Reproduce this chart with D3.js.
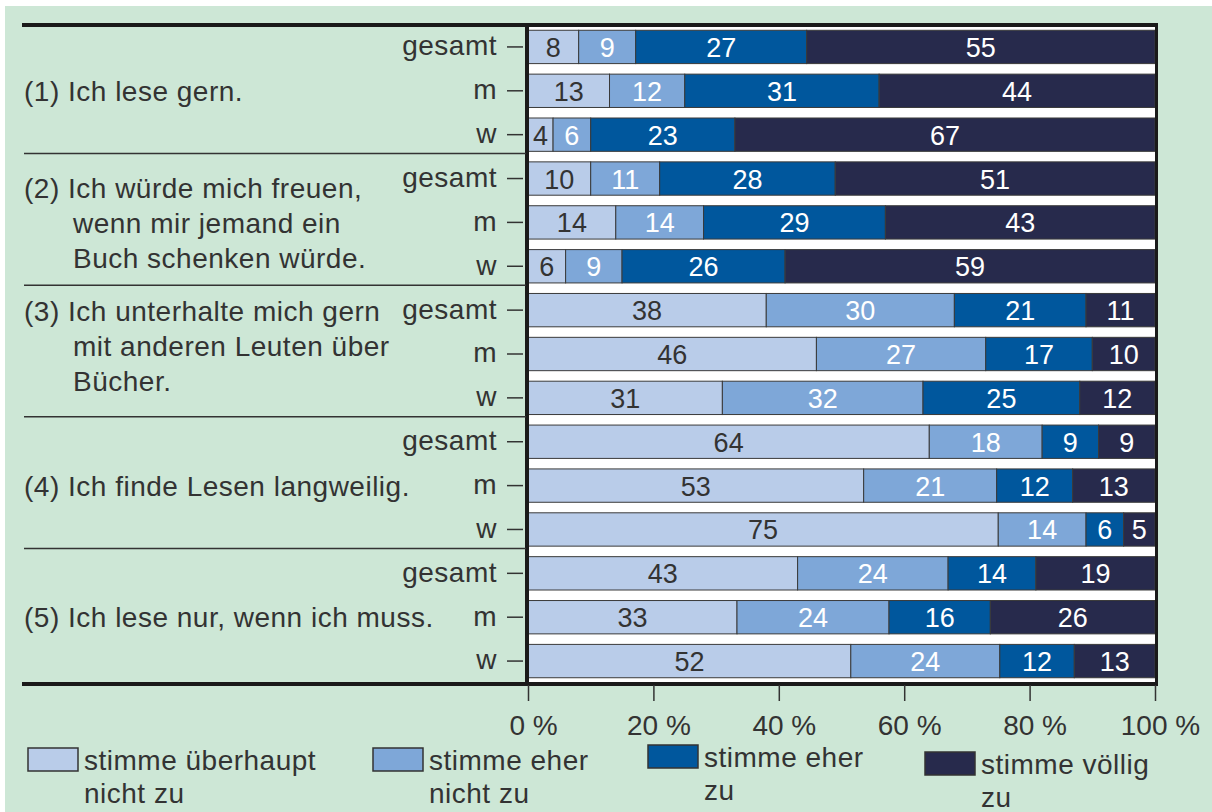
<!DOCTYPE html>
<html><head><meta charset="utf-8">
<script src="https://cdn.jsdelivr.net/npm/d3@7"></script>
<style>
html,body{margin:0;padding:0;background:#fff;}
svg{display:block;font-family:"Liberation Sans",Arial,sans-serif;}
</style></head>
<body>
<svg id="chart" width="1212" height="812"></svg>
<script>
// ---- data ----
const groupLabels = [
  ["(1) Ich lese gern."],
  ["(2) Ich würde mich freuen,", "wenn mir jemand ein", "Buch schenken würde."],
  ["(3) Ich unterhalte mich gern", "mit anderen Leuten über", "Bücher."],
  ["(4) Ich finde Lesen langweilig."],
  ["(5) Ich lese nur, wenn ich muss."]
];
const subgroups = ["gesamt", "m", "w"];
const seriesNames = ["stimme überhaupt nicht zu", "stimme eher nicht zu", "stimme eher zu", "stimme völlig zu"];
const legendLines = [["stimme überhaupt", "nicht zu"], ["stimme eher", "nicht zu"], ["stimme eher", "zu"], ["stimme völlig", "zu"]];
const ueberhauptNicht = [8, 13, 4, 10, 14, 6, 38, 46, 31, 64, 53, 75, 43, 33, 52];
const eherNicht       = [9, 12, 6, 11, 14, 9, 30, 27, 32, 18, 21, 14, 24, 24, 24];
const eherZu          = [27, 31, 23, 28, 29, 26, 21, 17, 25, 9, 12, 6, 14, 16, 12];
const voellig         = [55, 44, 67, 51, 43, 59, 11, 10, 12, 9, 13, 5, 19, 26, 13];
const tickValues = [0, 0.2, 0.4, 0.6, 0.8, 1];

// ---- layout ----
const colors = ["#b9cce9", "#7ea7d8", "#00579d", "#272a4c"];
const textColors = ["#333", "#fff", "#fff", "#fff"];
const bg = "#cde7d6";
const FS = 28, LS = 0.5;
const svg = d3.select("#chart");
svg.append("rect").attr("width", 1212).attr("height", 812).attr("fill", "#fff");
svg.append("rect").attr("x", 5).attr("y", 6).attr("width", 1207).attr("height", 806).attr("fill", bg);

const rows = [];
groupLabels.forEach((g, gi) => subgroups.forEach((s, si) => rows.push({id: gi * 3 + si, group: gi, sub: s})));
const table = rows.map((r, i) => ({
  id: r.id,
  [seriesNames[0]]: ueberhauptNicht[i],
  [seriesNames[1]]: eherNicht[i],
  [seriesNames[2]]: eherZu[i],
  [seriesNames[3]]: voellig[i]
}));

const x0 = 528, x1 = 1155, yTop = 25, yBot = 683;
const x = d3.scaleLinear().domain([0, 1]).range([x0, x1]);
const y = d3.scaleBand().domain(rows.map(r => r.id)).range([yTop, yBot]).paddingInner(0.24).paddingOuter(0.12);

// plot area white
svg.append("rect").attr("x", x0).attr("y", yTop).attr("width", x1 - x0).attr("height", yBot - yTop).attr("fill", "#fff");

const stack = d3.stack().keys(seriesNames).offset(d3.stackOffsetExpand);
const stacked = stack(table);

const layers = svg.append("g").selectAll("g").data(stacked).join("g")
  .attr("fill", (d, i) => colors[i]);
layers.selectAll("rect").data(d => d).join("rect")
  .attr("x", d => x(d[0]))
  .attr("y", d => y(d.data.id))
  .attr("width", d => x(d[1]) - x(d[0]))
  .attr("height", y.bandwidth())
  .attr("stroke", "#3a3a3a").attr("stroke-width", 1);

const labelG = svg.append("g").attr("text-anchor", "middle");
stacked.forEach((layer, li) => {
  labelG.selectAll(null).data(layer).join("text")
    .attr("x", d => (x(d[0]) + x(d[1])) / 2)
    .attr("y", d => y(d.data.id) + y.bandwidth() / 2 + 10)
    .attr("fill", textColors[li])
    .attr("font-size", d => (x(d[1]) - x(d[0])) < 22 ? 25 : 27)
    .text(d => d.data[layer.key]);
});

// frame lines
svg.append("line").attr("x1", 22).attr("x2", 1158).attr("y1", yTop).attr("y2", yTop).attr("stroke", "#1a1a1a").attr("stroke-width", 4);
svg.append("line").attr("x1", 22).attr("x2", 1158).attr("y1", yBot + 1).attr("y2", yBot + 1).attr("stroke", "#1a1a1a").attr("stroke-width", 4);
svg.append("line").attr("x1", x0 - 1).attr("x2", x0 - 1).attr("y1", yTop).attr("y2", yBot + 2).attr("stroke", "#1a1a1a").attr("stroke-width", 4);
svg.append("line").attr("x1", x1 + 1.5).attr("x2", x1 + 1.5).attr("y1", yTop).attr("y2", yBot + 2).attr("stroke", "#1a1a1a").attr("stroke-width", 3);

// group separators
for (let g = 1; g < groupLabels.length; g++) {
  const yy = (y(g * 3 - 1) + y.bandwidth() + y(g * 3)) / 2 - 3;
  svg.append("line").attr("x1", 24).attr("x2", x0 - 2).attr("y1", yy).attr("y2", yy).attr("stroke", "#333").attr("stroke-width", 1.5);
}

// y axis with sub labels
const yAxis = d3.axisLeft(y).tickSize(16).tickPadding(10).tickFormat(id => rows[id].sub);
const ya = svg.append("g").attr("transform", `translate(${x0 - 5},0)`).call(yAxis);
ya.select(".domain").remove();
ya.selectAll(".tick line").attr("stroke", "#333").attr("stroke-width", 1.5);
ya.selectAll(".tick text").attr("font-size", FS).attr("letter-spacing", LS).attr("fill", "#333").attr("font-family", "Liberation Sans, Arial, sans-serif").attr("dy", "0.3em");

// group labels
const firstLineOffset = [0, 9, 1, 0, 0];
groupLabels.forEach((lines, gi) => {
  const mid = y(gi * 3 + 1) + y.bandwidth() / 2;
  const startY = lines.length === 1 ? mid : y(gi * 3) + y.bandwidth() / 2 + firstLineOffset[gi];
  const t = svg.append("text").attr("x", 24).attr("font-size", FS).attr("letter-spacing", LS).attr("fill", "#333");
  lines.forEach((ln, li) => {
    t.append("tspan").attr("x", li === 0 ? 24 : 73).attr("y", startY + li * 35 + 10).text(ln);
  });
});

// x axis
const xAxis = d3.axisBottom(x).tickValues(tickValues).tickSize(16).tickPadding(14).tickFormat(d => Math.round(d * 100) + " %");
const xa = svg.append("g").attr("transform", `translate(0,${yBot + 2})`).call(xAxis);
xa.select(".domain").remove();
xa.selectAll(".tick line").attr("stroke", "#333").attr("stroke-width", 1.5);
xa.selectAll(".tick text").attr("font-size", FS).attr("fill", "#333").attr("font-family", "Liberation Sans, Arial, sans-serif").attr("dx", 5);

// legend
const legendPos = [[28, 748], [373, 748], [648, 745], [925, 752]];
const leg = svg.append("g").attr("font-size", FS).attr("letter-spacing", LS).attr("fill", "#333");
seriesNames.forEach((s, i) => {
  const [lx, ly] = legendPos[i];
  leg.append("rect").attr("x", lx).attr("y", ly).attr("width", 50).attr("height", 23)
    .attr("fill", colors[i]).attr("stroke", "#333").attr("stroke-width", 1.5);
  legendLines[i].forEach((ln, li) => {
    leg.append("text").attr("x", lx + 56).attr("y", ly + 22 + li * 33).text(ln);
  });
});
</script>
</body></html>
